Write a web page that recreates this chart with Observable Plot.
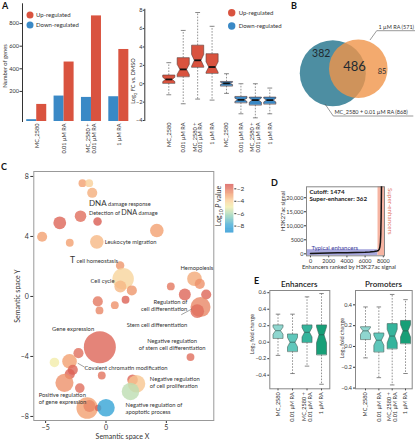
<!DOCTYPE html>
<html><head><meta charset="utf-8">
<script src="https://cdn.jsdelivr.net/npm/d3@7"></script>
<script src="https://cdn.jsdelivr.net/npm/@observablehq/plot@0.6"></script>
<style>
body{margin:0;background:#fff;}
#fig{position:relative;width:417px;height:440px;overflow:hidden;font-family:Lato,sans-serif;background:#fff;}
#fig > .p{position:absolute;}
#fig svg{overflow:visible;}
</style></head><body><div id="fig"></div>
<script>
// ================= DATA =================
const conditions = ["MC_2580", "0.01 µM RA", "MC_2580 +\n0.01 µM RA", "1 µM RA"];
const directions = ["Up-regulated", "Down-regulated"];
// Panel A: number of genes
const upGenes = [85, 460, 868, 571];
const downGenes = [-50, 159, 147, 153];
// Panel A: log2 FC box statistics [lower whisker, Q1, median, Q3, upper whisker]
const upLog2FC = [[-1.2,0.07,0.47,0.95,2.29],[-2.18,0.8,1.56,2.84,5.8],[-1.67,1.82,2.55,4.2,7.75],[-1.78,1.16,1.82,3.27,6.25]];
const downLog2FC = [[-1.05,-0.22,0.04,0.25,1.09],[-3.27,-2.04,-1.75,-1.38,0],[-3.71,-2.29,-1.78,-1.45,0],[-3.27,-2.18,-1.78,-1.45,-0.47]];
// Panel B: Venn
const vennSets = ["MC_2580 + 0.01 µM RA", "1 µM RA"];
const vennSizes = [868, 571];
const vennRegionCounts = [382, 486, 85];
// Panel C: GO term semantic space
const semX = [-1.95,-1.39,-1.14,-2.11,-3.83,-0.70,-5.29,-3.0,-0.76,4.21,1.17,1.42,1.19,2.14,1.62,-0.68,-0.54,0.73,5.37,6.53,7.33,7.77,8.30,7.83,7.56,7.0,-0.51,-2.28,-4.27,-3.02,-2.75,-3.0,-3.44,-2.17,-0.35,2.2,2.53,2.03,-1.56,-1.37,-0.65,0.0];
const semY = [7.55,7.55,6.91,5.35,4.91,5.0,3.98,3.58,3.64,4.4,2.07,1.18,0.67,0.4,-0.22,-0.33,-0.93,-0.58,0.67,0.13,1.18,0.84,0.13,-0.71,-0.98,-4.04,-3.38,-3.78,-4.4,-4.33,-4.89,-5.18,-5.76,-6.11,-5.27,-5.56,-5.82,-6.33,-7.44,-7.31,-7.44,-7.42];
const termSize = [6,6,10,13,16,7,10,6,18,18,7,45,14,10,6,10,6,6,6,14,21,10,10,39,18,6,100,10,9,21,10,10,32,9,6,11,30,30,45,14,4,30];
const logP = [-3,-4,-3.3,-2,-1.8,-1.6,-3,-3,-3.5,-3,-2.8,-4.2,-3.5,-2.8,-1.7,-2.2,-2.5,-2.7,-2.2,-1.8,-3.2,-2.7,-1.8,-2.5,-2.0,-2.0,-1.8,-2.0,-5.0,-3.0,-1.8,-1.7,-2.7,-2.0,-2.1,-1.8,-3.8,-5.8,-3.0,-2.5,-1.7,-8.0];
const pTicks = [-2, -4, -6, -8];
// Panel D: ranked H3K27ac signal
const seRank = [0,1000,2000,3000,4000,5000,6000,6500,7000,7300,7450,7550,7620,7680,7720,7760,7800];
const seSignal = [150,230,290,350,420,500,600,690,830,1000,1200,1600,2400,4000,7000,13000,24500];
const seCutoff = 1474;
const seCount = 362;
const enhancerTotal = 7780;
// Panel E: log2 fold change box statistics
const enhancerLFC = [[-0.16,0.05,0.14,0.21,0.34],[-0.38,-0.11,0.0,0.10,0.34],[-0.29,0.0,0.12,0.21,0.55],[-0.51,-0.15,0.09,0.21,0.59]];
const promoterLFC = [[-0.11,0.07,0.15,0.19,0.38],[-0.30,-0.05,0.06,0.13,0.38],[-0.37,-0.02,0.10,0.22,0.50],[-0.26,0.03,0.15,0.25,0.45]];

// ================= STYLE =================
const F = "Lato, 'Open Sans', sans-serif";
const RED = "#d9533f", BLUE = "#3a89c6";
const dirColor = {"Up-regulated": RED, "Down-regulated": BLUE};
const greens = ["#8fd6cf", "#5fc7bb", "#35b49c", "#179f77"];
const pColor = {type: "linear", domain: [-9.1, -8, -6.5, -5, -4, -3, -2, -1.3],
  range: ["#1a8fd0", "#35a4d6", "#8fcfb8", "#f2ecaa", "#f9cf98", "#f2a070", "#e06e5c", "#d6504c"]};
function st(fs) { return {fontFamily: F, fontSize: fs + "px", color: "#333", background: "transparent", overflow: "visible", maxWidth: "none"}; }
const fig = document.getElementById("fig");
function place(node, left, top) { const d = document.createElement("div"); d.className = "p"; d.style.left = left + "px"; d.style.top = top + "px"; d.appendChild(node); fig.appendChild(d); }

function boxMarks(boxes, half, o) {
  const poly = [], wh = [], caps = [], meds = [];
  for (const b of boxes) {
    const [lo, q1, med, q3, hi] = b.s, x = b.x, h = half;
    const n = 0.27 * (q3 - q1), lw = Math.max(q1, med - n), up = Math.min(q3, med + n);
    [[x-h,q1],[x-h,lw],[x-h*o.notch,med],[x-h,up],[x-h,q3],[x+h,q3],[x+h,up],[x+h*o.notch,med],[x+h,lw],[x+h,q1]]
      .forEach(([px, py]) => poly.push({k: b.k, x: px, y: py, fill: b.fill}));
    wh.push({x1: x, x2: x, y1: q3, y2: hi}, {x1: x, x2: x, y1: q1, y2: lo});
    caps.push({x1: x-h*o.cap, x2: x+h*o.cap, y1: hi, y2: hi}, {x1: x-h*o.cap, x2: x+h*o.cap, y1: lo, y2: lo});
    meds.push({x1: x-h*o.notch, x2: x+h*o.notch, y1: med, y2: med});
  }
  const L = {x1: "x1", x2: "x2", y1: "y1", y2: "y2"};
  return [
    Plot.link(wh, {...L, stroke: "#666", strokeWidth: 0.7, strokeDasharray: "1.6,1.4"}),
    Plot.link(caps, {...L, stroke: "#555", strokeWidth: 0.7}),
    Plot.line(poly, {x: "x", y: "y", z: "k", fill: "fill", stroke: o.stroke, strokeWidth: 0.6, curve: "linear-closed"}),
    Plot.link(meds, {...L, stroke: o.med, strokeWidth: o.medW})
  ];
}

// ---------- Panel A: bars ----------
const barData = conditions.flatMap((c, i) => [
  {i, dir: directions[1], n: downGenes[i]},
  {i, dir: directions[0], n: upGenes[i]}]);
const bw = 0.366;
const yBarDomain = [-66, 975];
place(Plot.plot({
  width: 140, height: 155, marginLeft: 22, marginRight: 8, marginTop: 3.3, marginBottom: 34, style: st(5.6),
  x: {domain: [-0.52, 3.5], ticks: [0,1,2,3], tickFormat: i => conditions[i], tickRotate: -90, tickSize: 0, tickPadding: 2, label: null},
  y: {domain: yBarDomain, ticks: [200,400,600,800], tickSize: 2.5, tickPadding: 1, line: true, label: null},
  color: {type: "identity"},
  marks: [
    Plot.rect(barData, {x1: d => d.dir === directions[1] ? d.i - bw : d.i, x2: d => d.dir === directions[1] ? d.i : d.i + bw,
      y1: yBarDomain[0], y2: "n", fill: d => dirColor[d.dir]})
  ]
}), 0, 0);

// ---------- Panel A: boxplots ----------
const lfcBoxes = [
  ...upLog2FC.map((s, i) => ({k: i, x: i + 1, s, fill: RED})),
  ...downLog2FC.map((s, i) => ({k: i + 4, x: i + 5, s, fill: BLUE}))];
place(Plot.plot({
  width: 160, height: 155, marginLeft: 14.3, marginRight: 3.4, marginTop: 8.8, marginBottom: 35, style: st(5.6),
  x: {domain: [-0.663, 9.2], ticks: [1,2,3,4,5,6,7,8], tickFormat: d => conditions[(d - 1) % 4], tickRotate: -90, tickSize: 0, tickPadding: 2, label: null},
  y: {domain: [-4, 8.1], ticks: [-4,-2,0,2,4,6,8], tickSize: 1.5, tickPadding: 0.8, line: true, label: null},
  color: {type: "identity"},
  marks: boxMarks(lfcBoxes, 0.42, {notch: 0.55, cap: 0.4, stroke: "#5a3a35", med: "#111", medW: 1.8})
}), 130, 0);

// ---------- Panel B: Venn ----------
const vennCircles = [
  {set: vennSets[0], size: vennSizes[0], x: 52.3, y: 72.7, fill: "#4d8ea2"},
  {set: vennSets[1], size: vennSizes[1], x: 77.8, y: 68.3, fill: "#f0954a"}];
const vennText = [
  {n: vennRegionCounts[0], x: 40.7, y: 53.5, fs: 10.5},
  {n: vennRegionCounts[1], x: 74, y: 66, fs: 13},
  {n: vennRegionCounts[2], x: 101.5, y: 71, fs: 7.5}];
place(Plot.plot({
  width: 137, height: 145, margin: 0, style: st(6),
  x: {domain: [0, 137], axis: null}, y: {domain: [0, 145], range: [0, 145], axis: null},
  r: {type: "linear", domain: [571, 868], range: [29.3, 33]},
  color: {type: "identity"},
  marks: [
    Plot.dot(vennCircles.slice(0,1), {x: "x", y: "y", r: "size", fill: "fill", stroke: null}),
    Plot.dot(vennCircles.slice(1), {x: "x", y: "y", r: "size", fill: "fill", fillOpacity: 0.8, stroke: null}),
    ...vennText.map(t => Plot.text([t], {x: "x", y: "y", text: d => String(d.n), fontSize: t.fs, fill: "#1f2a30"}))
  ]
}), 280, 0);

// ---------- Panel C: bubbles ----------
const bubbles = semX.map((x, i) => ({x, y: semY[i], size: termSize[i], p: logP[i]}));
const cLabels = [
  {t: "Leukocyte migration", x: -0.1, y: 3.5, a: "start"},
  {t: "Cell cycle", x: -1.28, y: 0.89, a: "start"},
  {t: "Hemopoiesis", x: 6.17, y: 1.75, a: "start"},
  {t: "Regulation of", x: 6.73, y: -0.51, a: "end"},
  {t: "cell differentiation", x: 6.73, y: -0.95, a: "end"},
  {t: "Stem cell differentiation", x: 6.73, y: -2.02, a: "end"},
  {t: "Negative regulation", x: 5.48, y: -3.13, a: "middle"},
  {t: "of stem cell differentiation", x: 5.48, y: -3.55, a: "middle"},
  {t: "Gene expression", x: -2.73, y: -2.29, a: "middle"},
  {t: "Covalent chromatin modification", x: -1.78, y: -4.87, a: "start"},
  {t: "Negative regulation", x: 3.63, y: -5.65, a: "start"},
  {t: "of cell proliferation", x: 3.63, y: -6.07, a: "start"},
  {t: "Positive regulation", x: -5.57, y: -6.73, a: "start"},
  {t: "of gene expression", x: -5.57, y: -7.18, a: "start"},
  {t: "Negative regulation of", x: 1.62, y: -7.4, a: "start"},
  {t: "apoptotic process", x: 1.62, y: -7.85, a: "start"}];
const leaders = [{x1: 6.23, y1: -1.22, x2: 7.08, y2: -0.85}, {x1: -2.34, y1: -4.45, x2: -1.78, y2: -4.71}];
const cX = [-5.98, 8.93], cY = [-8.27, 8.33], cML = 33.3, cMT = 11, cW = 180, cH = 249;
place(Plot.plot({
  width: 260, height: 282, marginLeft: cML, marginRight: 46.7, marginTop: cMT, marginBottom: 22, style: st(7),
  x: {domain: cX, ticks: [-5,0,5], tickSize: 3, tickPadding: 2, label: null},
  y: {domain: cY, ticks: [-8,-4,0,4,8], tickSize: 3, tickPadding: 2, label: null},
  r: {type: "sqrt", domain: [0, 100], range: [0, 16]},
  color: pColor,
  marks: [
    Plot.frame({stroke: "#999"}),
    Plot.dot(bubbles, {x: "x", y: "y", r: "size", fill: "p", fillOpacity: 0.8, stroke: null, sort: null}),
    Plot.link(leaders, {x1: "x1", y1: "y1", x2: "x2", y2: "y2", stroke: "#444", strokeWidth: 0.5}),
    ...["start", "middle", "end"].map(a => Plot.text(cLabels.filter(d => d.a === a), {x: "x", y: "y", text: "t", textAnchor: a, lineAnchor: "bottom", fontSize: 5.8, fill: "#333"}))
  ]
}), 0, 160);
const cpx = v => cML + (v - cX[0]) / (cX[1] - cX[0]) * cW;
const cpy = v => 160 + cMT + (cY[1] - v) / (cY[1] - cY[0]) * cH;

// ---------- Panel C legend (colour bar) ----------
const legendSteps = d3.range(-9.1, -1.3, 0.05);
place(Plot.plot({
  width: 40, height: 60, marginLeft: 10, marginRight: 21.7, marginTop: 4, marginBottom: 7.6, style: st(6.5),
  x: {domain: [0, 1], axis: null},
  y: {domain: [-9.1, -1.3], ticks: pTicks, axis: "right", tickSize: 2, tickPadding: 1, label: null},
  color: pColor,
  marks: [Plot.rect(legendSteps, {x1: 0, x2: 1, y1: d => d, y2: d => d + 0.06, fill: d => d})]
}), 215, 180);

// ---------- Panel D ----------
const curve = seRank.map((r, i) => ({rank: r, signal: seSignal[i]}));
const dX = [-440, 8130], dY = [-700, 23900];
place(Plot.plot({
  width: 137, height: 95, marginLeft: 26, marginRight: 33, marginTop: 6.3, marginBottom: 19.7, style: st(5.5),
  x: {domain: dX, ticks: [0,2000,4000,6000,8000], tickFormat: d => String(d), tickSize: 2, tickPadding: 1, label: null},
  y: {domain: dY, ticks: [0,5000,10000,15000,20000], tickFormat: d => d >= 10000 ? d3.format(",")(d) : String(d), tickSize: 2, tickPadding: 1, label: null},
  marks: [
    Plot.rect([seCutoff], {x1: dX[0], x2: enhancerTotal - seCount, y1: dY[0], y2: d => d, fill: "#a9a9de"}),
    Plot.rect([seCount], {x1: d => enhancerTotal - d, x2: dX[1], y1: dY[0], y2: dY[1], fill: "#f6b4a2"}),
    Plot.frame({stroke: "#888"}),
    Plot.line(curve, {x: "rank", y: "signal", stroke: "#151515", strokeWidth: 1.5, clip: true}),
    Plot.text([`Cutoff: ${seCutoff}\nSuper-enhancer: ${seCount}`], {text: d => d, frameAnchor: "top-left", lineAnchor: "top", dx: 3, dy: 2.5, fontWeight: "bold", fontSize: 6.2, lineHeight: 1.1, fill: "#222"}),
    Plot.text(["Typical enhancers"], {text: d => d, frameAnchor: "bottom-left", lineAnchor: "bottom", dx: 5, dy: -6, fill: "#3c3c9c", fontSize: 6})
  ]
}), 280, 180);

// ---------- Panel E ----------
function ePlot(stats, yDomain, yTicks, xDomain, ml, mr, half, left) {
  const boxes = stats.map((s, i) => ({k: i, x: i + 1, s, fill: greens[i]}));
  place(Plot.plot({
    width: 85, height: 150, marginLeft: ml, marginRight: mr, marginTop: 10, marginBottom: 41.7, style: st(5.5),
    x: {domain: xDomain, ticks: [1,2,3,4], tickFormat: d => conditions[d - 1], tickRotate: -90, tickSize: 2, tickPadding: 1.5, label: null},
    y: {domain: yDomain, ticks: yTicks, tickSize: 2, tickPadding: 1.5, label: null},
    color: {type: "identity"},
    marks: [Plot.frame({stroke: "#888"}), ...boxMarks(boxes, half, {notch: 0.5, cap: 0.45, stroke: "#3f5f58", med: "#2a4a44", medW: 0.6})]
  }), left, 280);
}
ePlot(enhancerLFC, [-0.565, 0.627], [-0.4,-0.2,0,0.2,0.4,0.6], [0.434, 4.57], 19.3, 5.7, 0.345, 250);
ePlot(promoterLFC, [-0.407, 0.538], [-0.4,-0.2,0,0.2,0.4], [0.25, 4.5], 20, 8.3, 0.375, 335);

// ================= OVERLAY TEXT =================
const ov = d3.create("svg").attr("width", 417).attr("height", 440)
  .style("position", "absolute").style("left", "0px").style("top", "0px").style("overflow", "visible")
  .style("font-family", F).style("fill", "#333");
fig.appendChild(ov.node());
function T(x, y, s, o = {}) {
  const t = ov.append("text").attr("x", x).attr("y", y).attr("font-size", o.fs || 6)
    .attr("text-anchor", o.a || "start").attr("fill", o.fill || "#333");
  if (o.w) t.attr("font-weight", o.w);
  if (o.rot) t.attr("transform", `rotate(${o.rot} ${x} ${y})`);
  if (Array.isArray(s)) s.forEach(p => { const ts = t.append("tspan").text(p.t); if (p.fs) ts.attr("font-size", p.fs); if (p.dy) ts.attr("dy", p.dy); if (p.st) ts.attr("font-style", p.st); });
  else t.text(s);
  return t;
}
// panel letters
T(2, 9, "A", {fs: 9, w: "bold", fill: "#111"});
T(291, 9, "B", {fs: 9, w: "bold", fill: "#111"});
T(1, 170, "C", {fs: 9, w: "bold", fill: "#111"});
T(271, 186, "D", {fs: 9, w: "bold", fill: "#111"});
T(254, 284, "E", {fs: 9, w: "bold", fill: "#111"});
// panel A legends and titles
[[30, 15, directions[0]], [30, 25, directions[1]]].forEach(([x, y, s]) => {
  ov.append("circle").attr("cx", x).attr("cy", y).attr("r", 3.5).attr("fill", dirColor[s]);
  T(x + 6, y + 2, s, {fs: 6});
});
[[231.7, 12.7, directions[0]], [231.7, 26, directions[1]]].forEach(([x, y, s]) => {
  ov.append("circle").attr("cx", x).attr("cy", y).attr("r", 3.7).attr("fill", dirColor[s]);
  T(x + 7, y + 2, s, {fs: 6});
});
T(6.5, 66, "Number of genes", {fs: 5.8, a: "middle", rot: -90});
T(135.3, 81, [{t: "Log"}, {t: "2", fs: 4, dy: 1.4}, {t: " FC vs. DMSO", dy: -1.4}], {fs: 5.6, a: "middle", rot: -90});
// panel B labels
ov.append("polyline").attr("points", "370,40 376.7,30.7 415,30.7").attr("fill", "none").attr("stroke", "#555").attr("stroke-width", 0.6);
T(378.5, 29, `${vennSets[1]} (${vennSizes[1]})`, {fs: 5.5});
ov.append("polyline").attr("points", "325,104 333.3,116 413.3,116").attr("fill", "none").attr("stroke", "#555").attr("stroke-width", 0.6);
T(334.5, 114.3, `${vennSets[0]} (${vennSizes[0]})`, {fs: 5.5});
// panel C mixed-size labels
T(cpx(-1.37), cpy(5.97), [{t: "DNA", fs: 8}, {t: " damage response"}], {fs: 5.6});
T(cpx(-1.37), cpy(5.4), [{t: "Detection of "}, {t: "DNA", fs: 7.2}, {t: " damage"}], {fs: 5.6});
T(cpx(-2.94), cpy(2.23), [{t: "T", fs: 8.5}, {t: " cell homeostasis"}], {fs: 5.8});
T(122.5, 438.5, "Semantic space X", {fs: 7, a: "middle"});
T(19.5, 296, "Semantic space Y", {fs: 7, a: "middle", rot: -90});
T(221, 206, [{t: "Log"}, {t: "10", fs: 5, dy: 1.8}, {t: " ", dy: -1.8}, {t: "P", st: "italic"}, {t: " value"}], {fs: 7, a: "middle", rot: -90});
// panel D labels
T(284.5, 211, "H3K27ac signal", {fs: 5.8, a: "middle", rot: -90});
T(349, 269, "Enhancers ranked by H3K27ac signal", {fs: 5.8, a: "middle"});
T(388, 188, "Super-enhancers", {fs: 6.3, rot: 90, fill: "#e2705c"});
// panel E titles
T(299.3, 287, "Enhancers", {fs: 8, w: "600", a: "middle", fill: "#222"});
T(383.5, 287, "Promoters", {fs: 8, w: "600", a: "middle", fill: "#222"});
T(254, 334, [{t: "Log"}, {t: "2", fs: 4, dy: 1.3}, {t: " fold change", dy: -1.3}], {fs: 5.5, a: "middle", rot: -90});
T(344, 338, [{t: "Log"}, {t: "2", fs: 4, dy: 1.3}, {t: " fold change", dy: -1.3}], {fs: 5.5, a: "middle", rot: -90});
</script></body></html>
